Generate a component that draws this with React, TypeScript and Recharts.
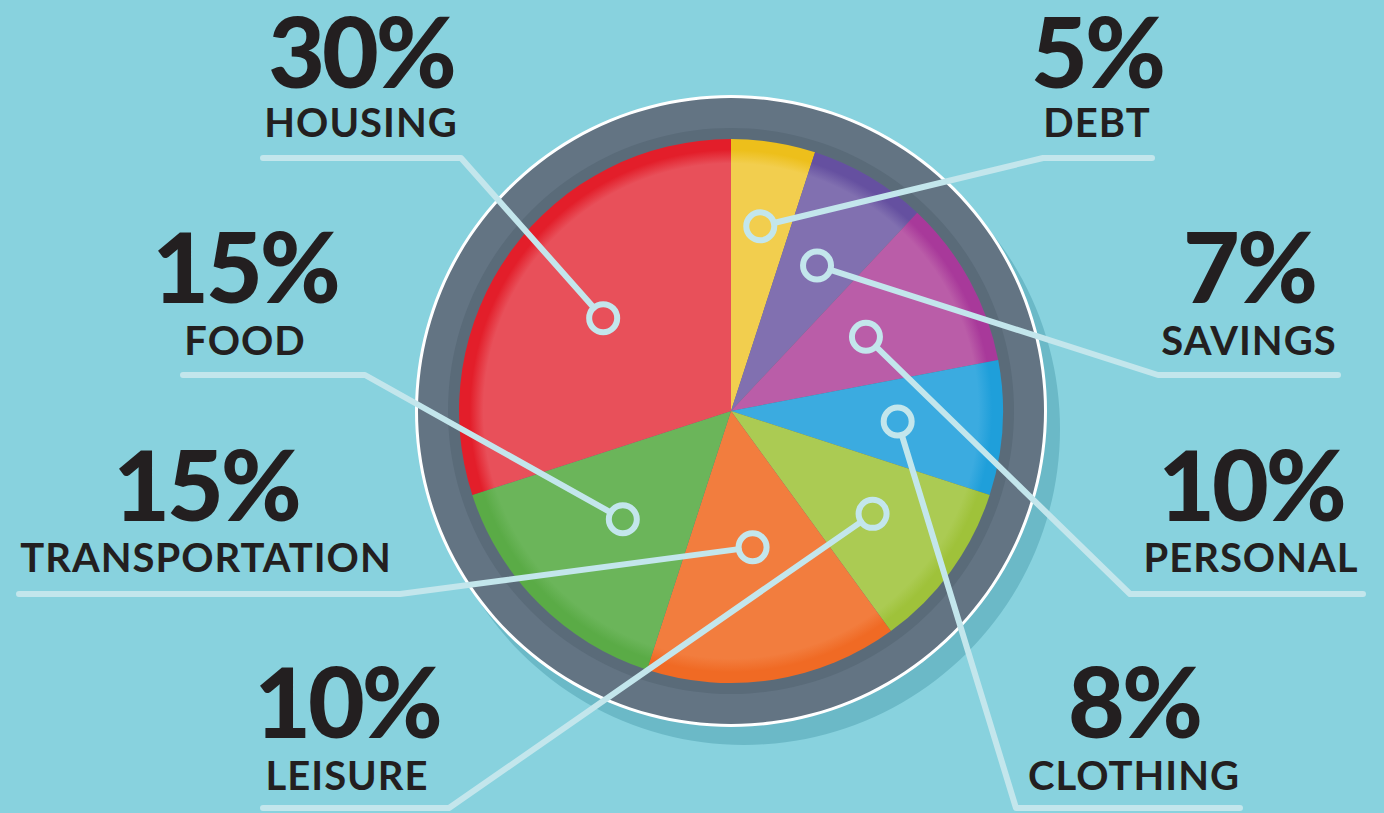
import React from "react";
import { PieChart, Pie, Cell } from "recharts";

// budget split, clockwise from 12 o'clock
const categories = ["DEBT", "SAVINGS", "PERSONAL", "CLOTHING", "LEISURE", "TRANSPORTATION", "FOOD", "HOUSING"];
const shares = [5, 7, 10, 8, 10, 15, 15, 30];

const baseColors = ["#EDBF1B", "#6550A0", "#A8399A", "#1F9FDA", "#9FC23A", "#F06A24", "#5AAB46", "#E31E2A"];
const lightColors = ["#F2CE4E", "#8170B0", "#BA5DA8", "#3BABE0", "#ABCB53", "#F27D3E", "#6BB55A", "#E8505A"];

const data = categories.map((name, i) => ({ name, value: shares[i] }));

// annotation layout: row, text centre, elbow x, line end x, dot distance from centre
const labelLayout = [
  { row: 0, tx: 1097, elbow: 1043, end: 1152, dotR: 187 },
  { row: 1, tx: 1249, elbow: 1158, end: 1338, dotR: 169 },
  { row: 2, tx: 1251, elbow: 1130, end: 1363, dotR: 154 },
  { row: 3, tx: 1134, elbow: 1016, end: 1240, dotR: 167 },
  { row: 3, tx: 347, elbow: 449, end: 263, dotR: 175 },
  { row: 2, tx: 206, elbow: 400, end: 19, dotR: 138 },
  { row: 1, tx: 245, elbow: 365, end: 183, dotR: 153 },
  { row: 0, tx: 361, elbow: 461, end: 263, dotR: 158 },
];
const numberBase = [88, 303, 521, 738];
const nameBase = [137, 355, 572, 790];
const lineY = [158, 375, 594, 808];

const CX = 731;
const CY = 411;
const PIE_R = 272;
const RAD = Math.PI / 180;
const LINE = "#C3E6EC";

const renderLabel = (props: any) => {
  const { cx, cy, midAngle, index, value, name } = props;
  const lay = labelLayout[index];
  const dx = cx + lay.dotR * Math.cos(-midAngle * RAD);
  const dy = cy + lay.dotR * Math.sin(-midAngle * RAD);
  const ly = lineY[lay.row];
  // stop the leader at the dot's rim
  const vx = lay.elbow - dx;
  const vy = ly - dy;
  const len = Math.sqrt(vx * vx + vy * vy);
  const sx = dx + (vx / len) * 14;
  const sy = dy + (vy / len) * 14;
  return (
    <g key={`lbl-${index}`}>
      <polyline
        points={`${sx},${sy} ${lay.elbow},${ly} ${lay.end},${ly}`}
        fill="none"
        stroke={LINE}
        strokeWidth={6}
        strokeLinecap="round"
        strokeLinejoin="round"
      />
      <circle cx={dx} cy={dy} r={14} fill="none" stroke={LINE} strokeWidth={6} />
      <text
        x={lay.tx}
        y={numberBase[lay.row]}
        textAnchor="middle"
        fontFamily="Lato, 'Open Sans', sans-serif"
        fontWeight={900}
        fontSize={98}
        letterSpacing={-3}
        fill="#231F20"
      >
        {value}%
      </text>
      <text
        x={lay.tx}
        y={nameBase[lay.row]}
        textAnchor="middle"
        fontFamily="Lato, 'Open Sans', sans-serif"
        fontWeight={700}
        fontSize={40}
        letterSpacing={1}
        fill="#231F20"
      >
        {name}
      </text>
    </g>
  );
};

const ring = [{ value: 1 }];

export default function App() {
  return (
    <div style={{ position: "absolute", left: 0, top: 0, width: 1384, height: 813, background: "#88D2DE", overflow: "hidden" }}>
      <svg width={0} height={0} style={{ position: "absolute" }}>
        <defs>
          {baseColors.map((c, i) => (
            <radialGradient key={i} id={`slice-${i}`} gradientUnits="userSpaceOnUse" cx={CX} cy={CY} r={PIE_R}>
              <stop offset="0%" stopColor={lightColors[i]} />
              <stop offset="91%" stopColor={lightColors[i]} />
              <stop offset="96%" stopColor={c} />
              <stop offset="100%" stopColor={c} />
            </radialGradient>
          ))}
        </defs>
      </svg>
      <PieChart width={1384} height={813} margin={{ top: 0, right: 0, bottom: 0, left: 0 }}>
        {/* drop shadow */}
        <Pie data={ring} dataKey="value" cx={CX + 13} cy={CY + 18} outerRadius={316} fill="#6BB9C7" stroke="none" isAnimationActive={false} />
        {/* white rim */}
        <Pie data={ring} dataKey="value" cx={CX} cy={CY} outerRadius={316} fill="#FFFFFF" stroke="none" isAnimationActive={false} />
        {/* grey ring */}
        <Pie data={ring} dataKey="value" cx={CX} cy={CY} outerRadius={313} fill="#637483" stroke="none" isAnimationActive={false} />
        <Pie data={ring} dataKey="value" cx={CX} cy={CY} outerRadius={283} fill="#5A6B79" stroke="none" isAnimationActive={false} />
        <Pie
          data={data}
          dataKey="value"
          nameKey="name"
          cx={CX}
          cy={CY}
          outerRadius={PIE_R}
          startAngle={90}
          endAngle={-270}
          stroke="none"
          label={renderLabel}
          labelLine={false}
          isAnimationActive={false}
        >
          {data.map((d, i) => (
            <Cell key={d.name} fill={`url(#slice-${i})`} />
          ))}
        </Pie>
      </PieChart>
    </div>
  );
}
